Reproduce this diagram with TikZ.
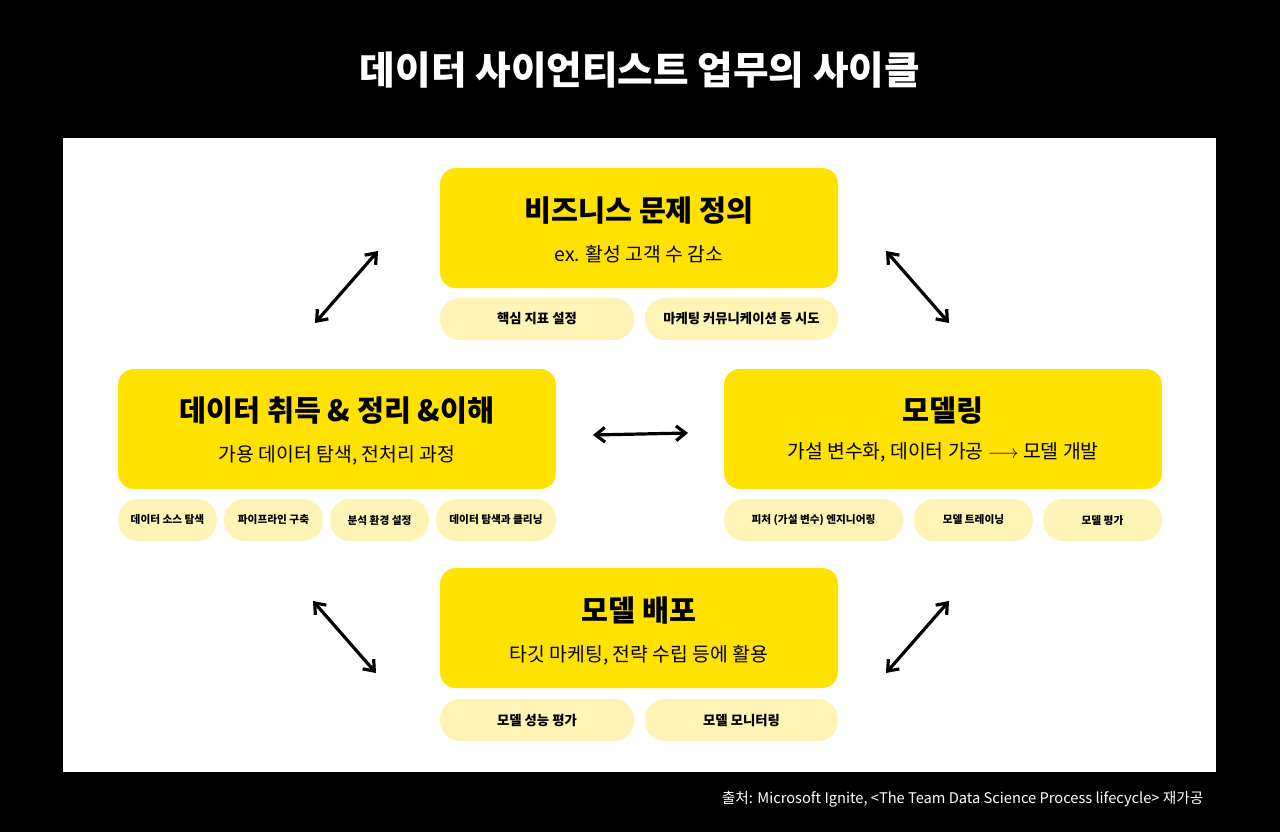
\documentclass[tikz,border=0pt]{standalone}
\usepackage{fontspec}
\setmainfont{Noto Sans CJK KR}
\newfontfamily\krb{Noto Sans CJK KR Bold}[BoldFont={Noto Sans CJK KR Bold}]
\usetikzlibrary{arrows.meta}
\definecolor{ylw}{HTML}{FFE200}
\definecolor{pill}{HTML}{FFF4B5}
\tikzset{
 box/.style={fill=ylw,rounded corners=12pt,minimum width=#1*0.75pt,minimum height=90pt,inner sep=0pt},
 pl/.style={fill=pill,rounded corners=15pt,minimum width=#1*0.75pt,minimum height=31.5pt,inner sep=0pt,font=\bfseries\fontsize{10}{12}\selectfont},
 sp/.style={pl=#1,font=\bfseries\fontsize{8}{10}\selectfont},
 arr/.style={{Straight Barb[length=7pt,width=11pt]}-{Straight Barb[length=7pt,width=11pt]},line width=2.4pt,line cap=round},
 ttl/.style={font=\bfseries\fontsize{22}{26}\selectfont},
 sub/.style={font=\fontsize{14.5}{18}\selectfont}
}
\begin{document}
\begin{tikzpicture}[x=0.75pt,y=-0.75pt]
\fill[black] (0,0) rectangle (1280,832);
\useasboundingbox (0,0) rectangle (1280,832);
\fill[white] (63,138) rectangle (1216,772);
\node[white,font=\bfseries\fontsize{29}{34}\selectfont] (title) at (640,70) {데이터 사이언티스트 업무의 사이클};
% boxes
\node[box=398] (b1) at (639,228) {};
\node[ttl] (b1t) at (639,211) {비즈니스 문제 정의};
\node[sub] (b1s) at (639,254) {ex. 활성 고객 수 감소};
\node[pl=194] (p11) at (537,319) {핵심 지표 설정};
\node[pl=193] (p12) at (741.5,319) {마케팅 커뮤니케이션 등 시도};

\node[box=438] (b2) at (337,429) {};
\node[ttl] (b2t) at (337,411) {데이터 취득 \& 정리 \&이해};
\node[sub] (b2s) at (337,455) {가용 데이터 탐색, 전처리 과정};
\node[sp=99] (p21) at (167.5,520) {데이터 소스 탐색};
\node[sp=99] (p22) at (273.5,520) {파이프라인 구축};
\node[sp=99] (p23) at (379.5,520) {분석 환경 설정};
\node[sp=120] (p24) at (496,520) {데이터 탐색과 클리닝};

\node[box=438] (b3) at (943,429) {};
\node[ttl] (b3t) at (943,411) {모델링};
\node[sub] (b3s) at (943,452) {가설 변수화, 데이터 가공 $\longrightarrow$ 모델 개발};
\node[sp=179] (p31) at (813.5,520) {피처 (가설 변수) 엔지니어링};
\node[sp=119] (p32) at (973.5,520) {모델 트레이닝};
\node[sp=119] (p33) at (1102.5,520) {모델 평가};

\node[box=398] (b4) at (639,628) {};
\node[ttl] (b4t) at (639,610) {모델 배포};
\node[sub] (b4s) at (639,655) {타깃 마케팅, 전략 수립 등에 활용};
\node[pl=194] (p41) at (537,720) {모델 성능 평가};
\node[pl=193] (p42) at (741.5,720) {모델 모니터링};

% arrows
\coordinate (a1) at (378,251); \coordinate (a2) at (315,323);
\coordinate (a3) at (886,251); \coordinate (a4) at (949,323);
\coordinate (a5) at (593,435); \coordinate (a6) at (688,433);
\coordinate (a7) at (313,601); \coordinate (a8) at (376,673);
\coordinate (a9) at (949,601); \coordinate (a10) at (886,673);
\draw[arr] (a1) -- (a2);
\draw[arr] (a3) -- (a4);
\draw[arr] (a5) -- (a6);
\draw[arr] (a7) -- (a8);
\draw[arr] (a9) -- (a10);

\node[white,anchor=east,font=\fontsize{11}{13}\selectfont] (src) at (1208,799) {출처: Microsoft Ignite, <The Team Data Science Process lifecycle> 재가공};
\end{tikzpicture}
\end{document}
